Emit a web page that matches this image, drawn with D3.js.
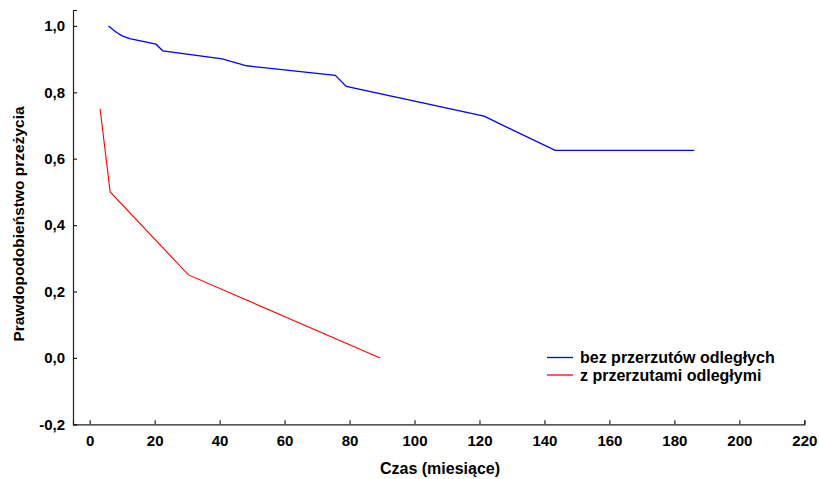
<!DOCTYPE html>
<html>
<head>
<meta charset="utf-8">
<script src="https://cdn.jsdelivr.net/npm/d3@7"></script>
<style>
  html, body { margin: 0; padding: 0; background: #fff; }
  svg { display: block; font-family: "Liberation Sans", Arial, sans-serif; }
</style>
</head>
<body>
<svg id="chart" width="819" height="479"></svg>
<script>
// Survival curves (Kaplan–Meier style) for two patient groups
const seriesNames = ["bez przerzutów odległych", "z przerzutami odległymi"];
const seriesColors = ["#0000ff", "#ff0000"];

// Time in months
const noMetTime = [5.8, 7.0, 8.3, 10.0, 12.3, 20.4, 22.5, 40.8, 48.3, 75.6, 79.0, 121.4, 143.3, 186.1];
// Survival probability
const noMetSurv = [1.0, 0.99, 0.98, 0.97, 0.962, 0.945, 0.925, 0.901, 0.880, 0.851, 0.818, 0.728, 0.625, 0.625];

const metTime = [3.2, 6.3, 30.4, 89.4];
const metSurv = [0.75, 0.50, 0.25, 0.0];

const xTicks = [0, 20, 40, 60, 80, 100, 120, 140, 160, 180, 200, 220];
const yTicks = [-0.2, 0.0, 0.2, 0.4, 0.6, 0.8, 1.0];

const xTitle = "Czas (miesiące)";
const yTitle = "Prawdopodobieństwo przeżycia";

const svg = d3.select("#chart");

const x = d3.scaleLinear().domain([-5.14, 220]).range([73, 804.3]);
const y = d3.scaleLinear().domain([-0.2, 1.048]).range([424.3, 10]);

const fmt = v => d3.format(".1f")(v).replace(".", ",").replace("−", "-");

// Axes with inward ticks
const xAxis = d3.axisBottom(x).tickValues(xTicks).tickSize(-4).tickPadding(11).tickFormat(d3.format("d"));
const yAxis = d3.axisLeft(y).tickValues(yTicks).tickSize(-4).tickPadding(8).tickFormat(fmt);

const gx = svg.append("g").attr("transform", `translate(0,${y(-0.2)})`).call(xAxis);
const gy = svg.append("g").attr("transform", `translate(${x(-5.14)},0)`).call(yAxis);

[gx, gy].forEach(g => {
  g.select(".domain").attr("stroke", "#222").attr("stroke-width", 1.2);
  g.selectAll(".tick line").attr("stroke", "#222").attr("stroke-width", 1.2);
  g.selectAll(".tick text")
    .attr("fill", "#000")
    .attr("font-size", 15)
    .attr("font-weight", "bold")
    .attr("font-family", "Liberation Sans, Arial, sans-serif");
});
gx.selectAll(".tick text").attr("dy", "0.71em");

// Axis titles
svg.append("text")
  .attr("x", 440)
  .attr("y", 474)
  .attr("text-anchor", "middle")
  .attr("font-size", 16)
  .attr("font-weight", "bold")
  .text(xTitle);

svg.append("text")
  .attr("transform", `translate(24,224) rotate(-90)`)
  .attr("text-anchor", "middle")
  .attr("font-size", 15.5)
  .attr("font-weight", "bold")
  .text(yTitle);

// Survival lines
const line = d3.line().x(d => x(d[0])).y(d => y(d[1]));

svg.append("path")
  .datum(d3.zip(noMetTime, noMetSurv))
  .attr("fill", "none")
  .attr("stroke", seriesColors[0])
  .attr("stroke-width", 1.3)
  .attr("d", line);

svg.append("path")
  .datum(d3.zip(metTime, metSurv))
  .attr("fill", "none")
  .attr("stroke", seriesColors[1])
  .attr("stroke-width", 1.1)
  .attr("d", line);

// Legend
const legend = svg.append("g").attr("transform", "translate(547,357.5)");
seriesNames.forEach((name, i) => {
  const row = legend.append("g").attr("transform", `translate(0,${i * 17.5})`);
  row.append("line")
    .attr("x1", 0).attr("x2", 26)
    .attr("y1", 0).attr("y2", 0)
    .attr("stroke", seriesColors[i])
    .attr("stroke-width", 1.3);
  row.append("text")
    .attr("x", 33)
    .attr("y", 5.5)
    .attr("font-size", 16)
    .attr("font-weight", "bold")
    .attr("fill", "#000")
    .text(name);
});
</script>
</body>
</html>
